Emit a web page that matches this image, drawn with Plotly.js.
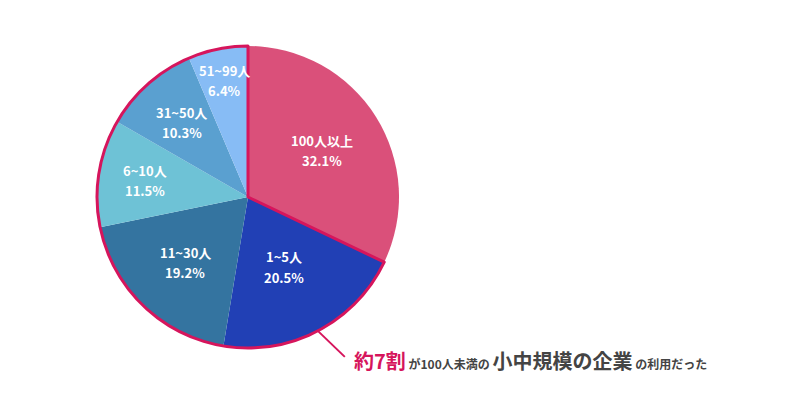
<!DOCTYPE html>
<html>
<head>
<meta charset="utf-8">
<script src="https://cdn.plot.ly/plotly-3.0.1.min.js"></script>
<style>html,body{margin:0;padding:0;background:#fff;}#chart{width:790px;height:417px;}</style>
</head>
<body>
<div id="chart"></div>
<script>
const categories = ["100人以上", "1~5人", "11~30人", "6~10人", "31~50人", "51~99人"];
const shares = [32.1, 20.5, 19.2, 11.5, 10.3, 6.4];
const sliceColors = ["#DA507A", "#2140B5", "#3474A0", "#6EC2D6", "#5AA0D0", "#87BCF5"];
const labelRadius = [0.58, 0.52, 0.60, 0.69, 0.66, 0.79];
const highlight = "#D6155C";

const W = 790, H = 417;
const cx = 248, cy = 197, r = 151;
const dom = {x: [(cx - r) / W, (cx + r) / W], y: [1 - (cy + r) / H, 1 - (cy - r) / H]};

const total = shares.reduce((a, b) => a + b, 0);
const rest = total - shares[0];

const mainTrace = {
  type: "pie",
  labels: categories,
  values: shares,
  sort: false,
  direction: "clockwise",
  rotation: 0,
  domain: dom,
  marker: {colors: sliceColors, line: {width: 0}},
  textinfo: "none",
  hoverinfo: "label+value",
  showlegend: false
};

const outlineTrace = {
  type: "pie",
  labels: ["others", "small"],
  values: [shares[0], rest],
  sort: false,
  direction: "clockwise",
  rotation: 0,
  domain: dom,
  marker: {colors: ["rgba(0,0,0,0)", "rgba(0,0,0,0)"], line: {color: ["rgba(0,0,0,0)", highlight], width: [0, 3]}},
  textinfo: "none",
  hoverinfo: "skip",
  showlegend: false
};

const annotations = [];
const labelFont = {family: "Noto Sans CJK JP", size: 13, color: "#ffffff", weight: "bold"};
let cum = 0;
shares.forEach((v, i) => {
  const mid = (cum + v / 2) / total * 2 * Math.PI;
  cum += v;
  const lx = cx + labelRadius[i] * r * Math.sin(mid);
  const ly = cy - labelRadius[i] * r * Math.cos(mid);
  annotations.push({xref: "paper", yref: "paper", x: lx / W, y: 1 - (ly - 10) / H,
    xanchor: "center", yanchor: "middle", showarrow: false, font: labelFont,
    text: "<b>" + categories[i] + "</b>"});
  annotations.push({xref: "paper", yref: "paper", x: lx / W, y: 1 - (ly + 10.5) / H,
    xanchor: "center", yanchor: "middle", showarrow: false, font: labelFont,
    text: "<b>" + v.toFixed(1) + "%</b>"});
});

annotations.push({
  xref: "paper", yref: "paper", x: 352 / W, y: 1 - 360 / H,
  xanchor: "left", yanchor: "middle", showarrow: false,
  font: {family: "Noto Sans CJK JP", size: 12, color: "#444444"},
  text: '<span style="font-size:20px;color:' + highlight + ';font-weight:bold">約7割</span> ' +
        '<b>が100人未満の</b> ' +
        '<span style="font-size:20px;font-weight:bold">小中規模の企業</span> ' +
        '<b>の利用だった</b>'
});

// leader line from middle of 1~5人 slice edge
const midFrac = (shares[0] + shares[1] / 2) / total;
const ang = midFrac * 2 * Math.PI;
const px0 = cx + r * Math.sin(ang), py0 = cy - r * Math.cos(ang);
const px1 = px0 + 27, py1 = py0 + 26;

const layout = {
  width: W, height: H,
  margin: {l: 0, r: 0, t: 0, b: 0},
  paper_bgcolor: "#ffffff",
  plot_bgcolor: "#ffffff",
  shapes: [{
    type: "line", xref: "paper", yref: "paper",
    x0: px0 / W, y0: 1 - py0 / H, x1: px1 / W, y1: 1 - py1 / H,
    line: {color: highlight, width: 2}
  }],
  annotations: annotations
};

Plotly.newPlot("chart", [mainTrace, outlineTrace], layout, {displayModeBar: false, staticPlot: true});
</script>
</body>
</html>
